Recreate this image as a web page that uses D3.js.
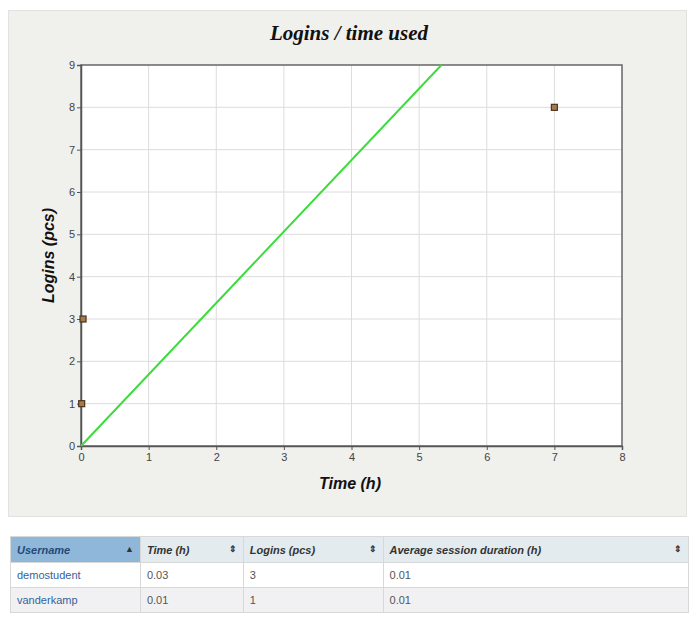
<!DOCTYPE html>
<html>
<head>
<meta charset="utf-8">
<script src="https://cdn.jsdelivr.net/npm/d3@7"></script>
<style>
  body { margin: 0; background: #fff; font-family: Arial, "Liberation Sans", sans-serif; }
  #app { position: relative; width: 689px; height: 617px; }
  table { position: absolute; left: 10px; top: 536px; width: 679px; border-collapse: collapse; font-size: 11px; }
  th, td { border: 1px solid #d8d8d8; height: 24px; padding: 0 6px; text-align: left; }
  th { background: #e3ebee; color: #333; font-style: italic; font-weight: bold; height: 25px; }
  th.sorted { background: #8fb7d9; color: #234a7a; }
  th span.arr { float: right; font-style: normal; font-size: 9px; color: #333; }
  td { color: #555; }
  td.user { color: #35629a; }
  tr.odd td { background: #f1f1f3; }
</style>
</head>
<body>
<div id="app"></div>
<script>
const title = 'Logins / time used';
const xLabel = 'Time (h)';
const yLabel = 'Logins (pcs)';
const xTicks = [0, 1, 2, 3, 4, 5, 6, 7, 8];
const yTicks = [0, 1, 2, 3, 4, 5, 6, 7, 8, 9];

const users = ['demostudent', 'vanderkamp', 'other'];
const timeUsed = [0.03, 0.01, 7];
const logins = [3, 1, 8];
const trendX = [0, 5.33];
const trendY = [0, 9];

const tableHead = ['Username', 'Time (h)', 'Logins (pcs)', 'Average session duration (h)'];
const tableUser = ['demostudent', 'vanderkamp'];
const tableTime = ['0.03', '0.01'];
const tableLogins = ['3', '1'];
const tableAvg = ['0.01', '0.01'];

const width = 689, height = 617;
const app = d3.select('#app');

const svg = app.append('svg')
  .attr('width', width)
  .attr('height', 530)
  .style('position', 'absolute')
  .style('left', 0)
  .style('top', 0);

// panel
svg.append('rect')
  .attr('x', 8.5).attr('y', 10.5)
  .attr('width', 678).attr('height', 506)
  .attr('fill', '#f0f0ed')
  .attr('stroke', '#e2e2e0');

const x = d3.scaleLinear().domain([0, 8]).range([81, 622]);
const y = d3.scaleLinear().domain([0, 9]).range([446, 65]);

svg.append('rect')
  .attr('x', x(0)).attr('y', y(9))
  .attr('width', x(8) - x(0)).attr('height', y(0) - y(9))
  .attr('fill', '#fff');

// grid
svg.append('g')
  .selectAll('line')
  .data(xTicks.slice(1, -1))
  .join('line')
  .attr('x1', d => x(d)).attr('x2', d => x(d))
  .attr('y1', y(9)).attr('y2', y(0))
  .attr('stroke', '#dcdcdc');

svg.append('g')
  .selectAll('line')
  .data(yTicks.slice(1, -1))
  .join('line')
  .attr('x1', x(0)).attr('x2', x(8))
  .attr('y1', d => y(d)).attr('y2', d => y(d))
  .attr('stroke', '#dcdcdc');

// frame
svg.append('rect')
  .attr('x', x(0)).attr('y', y(9))
  .attr('width', x(8) - x(0)).attr('height', y(0) - y(9))
  .attr('fill', 'none')
  .attr('stroke', '#666')
  .attr('stroke-width', 1.5);

const xAxis = svg.append('g')
  .attr('transform', `translate(0,${y(0)})`)
  .call(d3.axisBottom(x).tickValues(xTicks).tickSize(4).tickPadding(3));
const yAxis = svg.append('g')
  .attr('transform', `translate(${x(0)},0)`)
  .call(d3.axisLeft(y).tickValues(yTicks).tickSize(4).tickPadding(2));

[xAxis, yAxis].forEach(a => {
  a.select('.domain').attr('stroke', '#555').attr('stroke-width', 1.5);
  a.selectAll('.tick line').attr('stroke', '#555');
  a.selectAll('.tick text')
    .attr('fill', '#444')
    .style('font-family', 'Arial, sans-serif')
    .style('font-size', '11px');
});

// trend line
const line = d3.line()
  .x(d => x(d[0]))
  .y(d => y(d[1]));
svg.append('path')
  .datum(d3.zip(trendX, trendY))
  .attr('d', line)
  .attr('fill', 'none')
  .attr('stroke', '#3ddc3d')
  .attr('stroke-width', 2);

// points
svg.append('g')
  .selectAll('rect')
  .data(d3.zip(timeUsed, logins))
  .join('rect')
  .attr('x', d => x(d[0]) - 3)
  .attr('y', d => y(d[1]) - 3)
  .attr('width', 6).attr('height', 6)
  .attr('fill', '#a87a4a')
  .attr('stroke', '#4a3522')
  .attr('stroke-width', 1.2);

// titles
svg.append('text')
  .attr('x', 349).attr('y', 40)
  .attr('text-anchor', 'middle')
  .style('font-family', '"Liberation Serif", "Times New Roman", serif')
  .style('font-size', '21px')
  .style('font-weight', 'bold')
  .style('font-style', 'italic')
  .attr('fill', '#111')
  .text(title);

svg.append('text')
  .attr('x', 350).attr('y', 489)
  .attr('text-anchor', 'middle')
  .style('font-size', '16px')
  .style('font-weight', 'bold')
  .style('font-style', 'italic')
  .attr('fill', '#111')
  .text(xLabel);

svg.append('text')
  .attr('transform', `translate(54,${(y(0) + y(9)) / 2}) rotate(-90)`)
  .attr('text-anchor', 'middle')
  .style('font-size', '16px')
  .style('font-weight', 'bold')
  .style('font-style', 'italic')
  .attr('fill', '#111')
  .text(yLabel);

// table
const table = app.append('table');
const colW = [130, 103, 140, 306];
table.append('tr')
  .selectAll('th')
  .data(tableHead)
  .join('th')
  .attr('class', (d, i) => i === 0 ? 'sorted' : null)
  .style('width', (d, i) => `${colW[i] - 13}px`)
  .html((d, i) => `${d}<span class="arr">${i === 0 ? '&#9650;' : '&#8661;'}</span>`);

const rows = d3.zip(tableUser, tableTime, tableLogins, tableAvg);
table.selectAll('tr.row')
  .data(rows)
  .join('tr')
  .attr('class', (d, i) => i % 2 ? 'row odd' : 'row')
  .selectAll('td')
  .data(d => d)
  .join('td')
  .attr('class', (d, i) => i === 0 ? 'user' : null)
  .text(d => d);
</script>
</body>
</html>
